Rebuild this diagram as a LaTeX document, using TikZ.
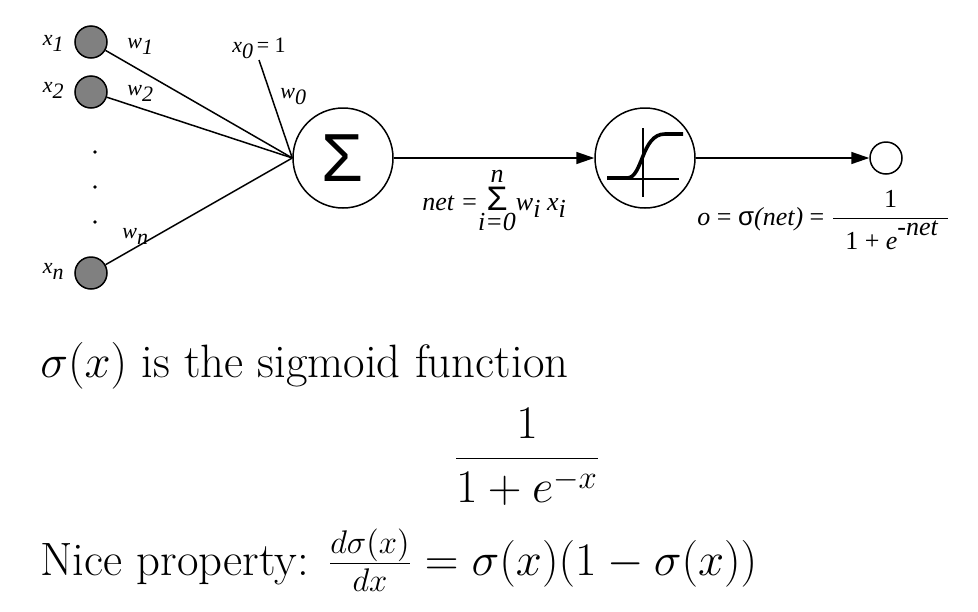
\RequirePackage{fix-cm}
\documentclass[tikz,border=0pt]{standalone}
\usepackage{fontspec}
\newfontfamily\tms{Liberation Serif}
\newfontfamily\arl{Liberation Sans}
\usetikzlibrary{arrows.meta}

% same-size lowered/raised indices, as in the drawing
\newcommand{\sub}[1]{\raisebox{-0.6ex}{#1}}
\newcommand{\sups}[1]{\raisebox{1.1ex}{#1}}

\begin{document}
\begin{tikzpicture}[x=0.5pt,y=-0.5pt,
    unit/.style={circle,draw,line width=0.75pt,inner sep=0pt,minimum size=50pt},
    inp/.style={circle,draw,fill=gray,line width=0.75pt,inner sep=0pt,minimum size=16pt},
    lbl/.style={font=\fontsize{11}{12}\selectfont\tms\itshape,inner sep=0pt},
    frm/.style={font=\fontsize{13}{15}\selectfont\tms\itshape,inner sep=0pt},
    wire/.style={line width=0.75pt},
    sig/.style={wire,-{Triangle[length=9pt,width=6pt]}},
    big/.style={font=\fontsize{23.4}{27}\selectfont,inner sep=0pt}]
  \useasboundingbox (0,0) rectangle (978,611);

  % inputs
  \node[inp] (x1) at (91,42) {};
  \node[inp] (x2) at (91,92) {};
  \node[inp] (xn) at (91,273) {};
  \foreach \y in {152,187,222}
    \fill (95,\y) circle (0.9pt);
  \node[lbl,anchor=base east] (lx1) at (64,45) {x\sub{1}};
  \node[lbl,anchor=base east] (lx2) at (64,92) {x\sub{2}};
  \node[lbl,anchor=base east] (lxn) at (64,273) {x\sub{n}};

  % units
  \node[unit] (sum) at (343,158) {\fontsize{34}{40}\selectfont\arl Σ};
  \node[unit] (act) at (645,158) {};
  \node[circle,draw,line width=0.75pt,inner sep=0pt,minimum size=16pt] (out) at (886,158) {};

  % weights
  \coordinate (x0end) at (259,60);
  \draw[wire] (x1) -- (sum.west);
  \draw[wire] (x2) -- (sum.west);
  \draw[wire] (xn) -- (sum.west);
  \draw[wire] (x0end) -- (sum.west);
  \node[lbl,anchor=base west] (w1) at (127,48) {w\sub{1}};
  \node[lbl,anchor=base west] (w2) at (127,95) {w\sub{2}};
  \node[lbl,anchor=base west] (wn) at (122,238) {w\sub{n}};
  \node[lbl,anchor=base west] (w0) at (280,98) {w\sub{0}};
  \node[lbl,anchor=base west] (x0) at (232,52) {x\sub{0}\,\upshape = 1};

  % sigmoid glyph
  \draw[wire] ([shift={(-2,-30)}]act.center) -- ([shift={(-2,39)}]act.center);
  \draw[wire] ([shift={(-38,21)}]act.center) -- ([shift={(34,21)}]act.center);
  \draw[line width=1.8pt] ([shift={(-38,20)}]act.center) -- ([shift={(-18,20)}]act.center)
    .. controls ([shift={(-2,20)}]act.center) and ([shift={(-4,-24)}]act.center) .. ([shift={(20,-24)}]act.center)
    -- ([shift={(38,-24)}]act.center);

  \draw[sig] (sum) -- (act);
  \draw[sig] (act) -- (out);

  \node[frm,anchor=base west] (net) at (422,210)
    {$\hbox{net =}{\mathop{\hbox{\arl\upshape\fontsize{17}{17}\selectfont Σ}}\limits^{\hbox{n}}_{\hbox{i=0}}}\hbox{w\sub{i} x\sub{i}}$};
  \node[frm,anchor=base west] (o) at (697,225)
    {$\hbox{o {\upshape =} {\arl\upshape σ}(net) {\upshape =}\ }\displaystyle\frac{\hbox{\upshape 1}}{\hbox{\hspace{6pt}\upshape 1 + \itshape e\sups{-net}\hspace{5pt}}}$};

  % text below
  \node[big,anchor=base west] (sigtxt) at (40,377) {$\sigma(x)$ is the sigmoid function};
  \node[big,anchor=base] (sigfrac) at (527,470) {$\displaystyle\frac{1}{1+e^{-x}}$};
  \node[big,anchor=base west] (nice) at (40,575)
    {Nice property: $\frac{d\sigma(x)}{dx}=\sigma(x)(1-\sigma(x))$};
\end{tikzpicture}
\end{document}
